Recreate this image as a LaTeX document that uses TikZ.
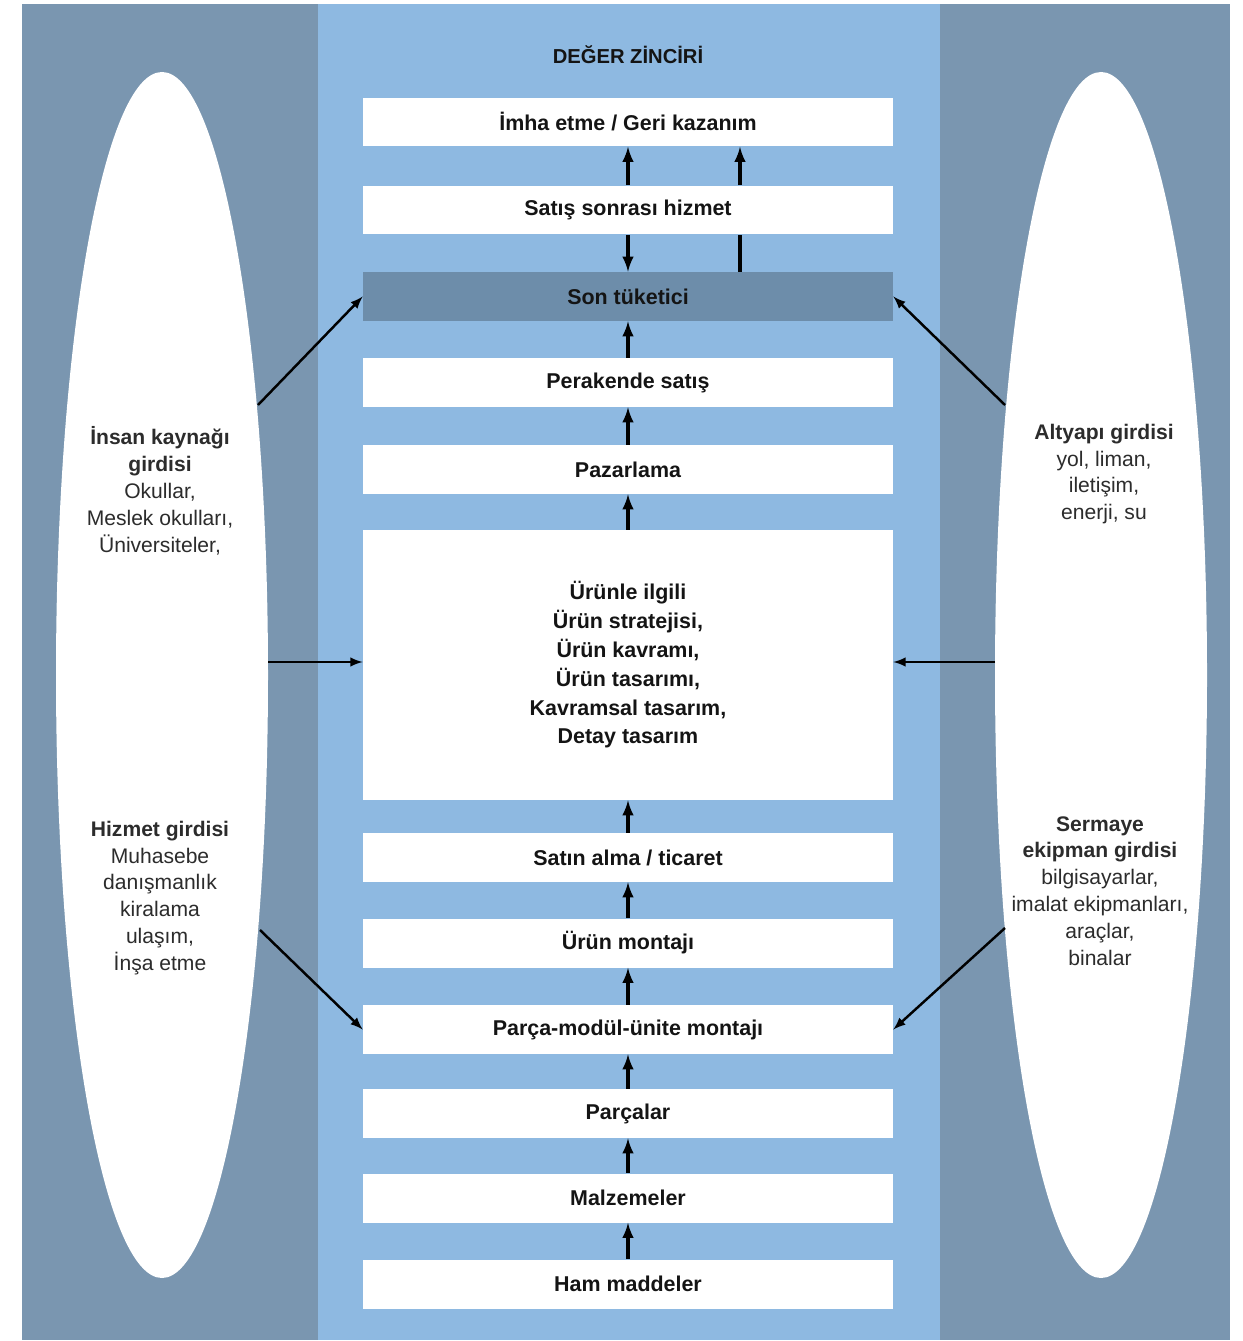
\documentclass[tikz,border=0pt]{standalone}
\usepackage{fontspec}
\setmainfont{Liberation Sans}
\usepackage{tikz}
\usetikzlibrary{calc,shapes,arrows}

\definecolor{diskoyu}{HTML}{7A96B0}
\definecolor{ortamavi}{HTML}{8EB9E1}
\definecolor{sonmavi}{HTML}{6D8DAA}
\definecolor{yazi}{HTML}{141414}

\tikzset{
  kutu/.style={fill=white, minimum width=10.6cm, minimum height=0.98cm, inner sep=0pt,
    font=\fontsize{12.2}{15.6}\selectfont\bfseries, text=yazi, align=center},
  yan/.style={font=\fontsize{12}{15.3}\selectfont, text=yazi!90, align=center, inner sep=0pt},
  ok/.style={-latex, line width=1.9pt, black},
  capraz/.style={-latex, line width=1.4pt, black}
}

\begin{document}
\begin{tikzpicture}[x=0.02cm, y=-0.02cm]
        \useasboundingbox (0,0) rectangle (1242,1341);
        \fill[white] (0,0) rectangle (1242,1341);
        \fill[diskoyu] (22,4) rectangle (1230,1340);
        \fill[ortamavi] (318,4) rectangle (940,1340);
        \fill[white] (162,675) ellipse (106 and 603);
        \fill[white] (1101,675) ellipse (106 and 603);

        \node[font=\fontsize{11.5}{14}\selectfont\bfseries, text=yazi] (baslik) at (628,55) {DEĞER ZİNCİRİ};

        \node[kutu] (imha) at (628,122) {İmha etme / Geri kazanım};
        \node[kutu] (satis) at (628,210) {Satış sonrası hizmet};
        \node[kutu, fill=sonmavi] (son) at (628,296.5) {Son tüketici};
        \node[kutu] (perakende) at (628,382.5) {Perakende satış};
        \node[kutu] (pazarlama) at (628,469.5) {Pazarlama};
        \node[kutu, minimum height=5.4cm, font=\fontsize{12.2}{16.4}\selectfont\bfseries] (urun) at (628,665)
            {Ürünle ilgili\\ Ürün stratejisi,\\ Ürün kavramı,\\ Ürün tasarımı,\\ Kavramsal tasarım,\\ Detay tasarım};
        \node[kutu] (satin) at (628,857.5) {Satın alma / ticaret};
        \node[kutu] (montaj) at (628,943) {Ürün montajı};
        \node[kutu] (modul) at (628,1029.5) {Parça-modül-ünite montajı};
        \node[kutu] (parcalar) at (628,1113.5) {Parçalar};
        \node[kutu] (malzeme) at (628,1198) {Malzemeler};
        \node[kutu] (ham) at (628,1284) {Ham maddeler};

        \foreach \a/\b in {ham/malzeme, malzeme/parcalar, parcalar/modul, modul/montaj,
            montaj/satin, satin/urun, urun/pazarlama, pazarlama/perakende, perakende/son, satis/imha}
        \draw[ok] (\a.north) -- (\b.south);
        \draw[ok] (satis.south) -- (son.north);
        \coordinate (geri) at (740,250);
        \draw[line width=1.9pt] (son.north -| geri) -- (satis.south -| geri);
        \draw[ok] (satis.north -| geri) -- (imha.south -| geri);

        \node[yan] (insan) at (160,491)
            {\textbf{İnsan kaynağı}\\ \textbf{girdisi}\\ Okullar,\\ Meslek okulları,\\ Üniversiteler,};
        \node[yan] (hizmet) at (160,898)
            {\textbf{Hizmet girdisi}\\ Muhasebe\\ danışmanlık\\ kiralama\\ ulaşım,\\ İnşa etme};
        \node[yan] (altyapi) at (1104,474)
            {\textbf{Altyapı girdisi}\\ yol, liman,\\ iletişim,\\ enerji, su};
        \node[yan] (sermaye) at (1100,891)
            {\textbf{Sermaye}\\ \textbf{ekipman girdisi}\\ bilgisayarlar,\\ imalat ekipmanları,\\ araçlar,\\ binalar};

        \coordinate (s1) at (258,405);
        \coordinate (s2) at (268,662);
        \coordinate (s3) at (260,930);
        \coordinate (r1) at (1005,405);
        \coordinate (r2) at (995,662);
        \coordinate (r3) at (1005,928);
        \draw[capraz] (s1) -- (son.west);
        \draw[capraz] (s2) -- (urun.west |- s2);
        \draw[capraz] (s3) -- (modul.west);
        \draw[capraz] (r1) -- (son.east);
        \draw[capraz] (r2) -- (urun.east |- r2);
        \draw[capraz] (r3) -- (modul.east);
    \end{tikzpicture}
\end{document}
